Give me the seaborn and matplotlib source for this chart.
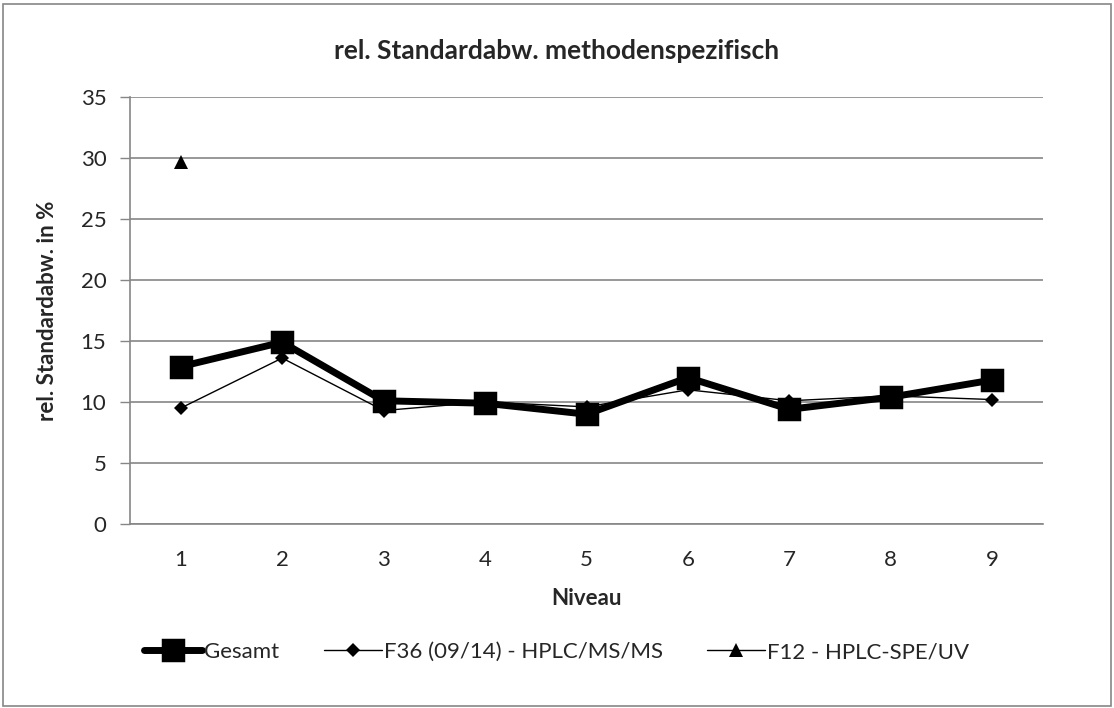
import matplotlib
matplotlib.use('Agg')
import matplotlib.pyplot as plt
import matplotlib.patches as mpatches
import numpy as np
import pandas as pd
import seaborn as sns

niveau = [1, 2, 3, 4, 5, 6, 7, 8, 9]
gesamt = [12.9, 14.9, 10.1, 9.9, 9.0, 12.0, 9.4, 10.4, 11.8]
f36 = [9.5, 13.6, 9.3, 10.0, 9.6, 11.0, 10.1, 10.5, 10.2]
f12 = [29.7, np.nan, np.nan, np.nan, np.nan, np.nan, np.nan, np.nan, np.nan]

series_names = ['Gesamt', 'F36 (09/14) - HPLC/MS/MS', 'F12 - HPLC-SPE/UV']
y_ticks = [0, 5, 10, 15, 20, 25, 30, 35]

df = pd.DataFrame({'Niveau': niveau, series_names[0]: gesamt,
                   series_names[1]: f36, series_names[2]: f12})

sns.set_style('white')
plt.rcParams['font.family'] = ['Lato', 'DejaVu Sans']

grey = '#868686'
fig = plt.figure(figsize=(11.14, 7.08), dpi=100)
ax = fig.add_axes([0.1167, 0.2599, 0.8196, 0.6031])

# Gesamt - thick line, big squares
sns.lineplot(data=df, x='Niveau', y=series_names[0], ax=ax, color='black',
             linewidth=5, marker='s', markersize=14, markeredgewidth=2.5,
             markeredgecolor='black', label=series_names[0],
             solid_joinstyle='round', zorder=4)
# F36 - thin line with diamonds
sns.lineplot(data=df, x='Niveau', y=series_names[1], ax=ax, color='black',
             linewidth=1, marker='D', markersize=7, markeredgewidth=0,
             label=series_names[1], zorder=3)
# F12 - only one value
sns.lineplot(data=df, x='Niveau', y=series_names[2], ax=ax, color='black',
             linewidth=1, marker='^', markersize=10, markeredgewidth=0,
             label=series_names[2], zorder=3)

ax.set_xlim(0.5, 9.5)
ax.set_ylim(0, 35)
ax.set_yticks(y_ticks)
ax.set_xticks(niveau)
ax.set_xticks(np.arange(0.5, 10, 1), minor=True)
ax.tick_params(axis='x', which='major', length=0, labelsize=16, pad=19)
ax.tick_params(axis='x', which='minor', length=7, color=grey, width=1)
ax.tick_params(axis='y', length=7, color=grey, width=1, labelsize=16, pad=10,
               left=True)
ax.yaxis.grid(True, color=grey, linewidth=1.2)
ax.set_axisbelow(True)
for side in ['top', 'right']:
    ax.spines[side].set_visible(False)
for side in ['left', 'bottom']:
    ax.spines[side].set_color(grey)
    ax.spines[side].set_linewidth(1.2)

ax.set_xlabel('Niveau', fontsize=16, fontweight='bold', labelpad=13)
ax.set_ylabel('rel. Standardabw. in %', fontsize=16, fontweight='bold',
              labelpad=16)
fig.text(0.5, 0.928, 'rel. Standardabw. methodenspezifisch', ha='center',
         va='center', fontsize=19, fontweight='bold')

handles, labels = ax.get_legend_handles_labels()
ax.get_legend().remove()
fig.legend(handles, labels, loc='center', bbox_to_anchor=(0.5, 0.079),
           ncol=3, frameon=False, fontsize=16, handlelength=2.6,
           handletextpad=0.1, columnspacing=2.0)

fig.patches.append(mpatches.Rectangle((0.003, 0.003), 0.994, 0.992,
                                      transform=fig.transFigure, fill=False,
                                      edgecolor=grey, linewidth=1.2))

plt.savefig('out.png', dpi=100)
